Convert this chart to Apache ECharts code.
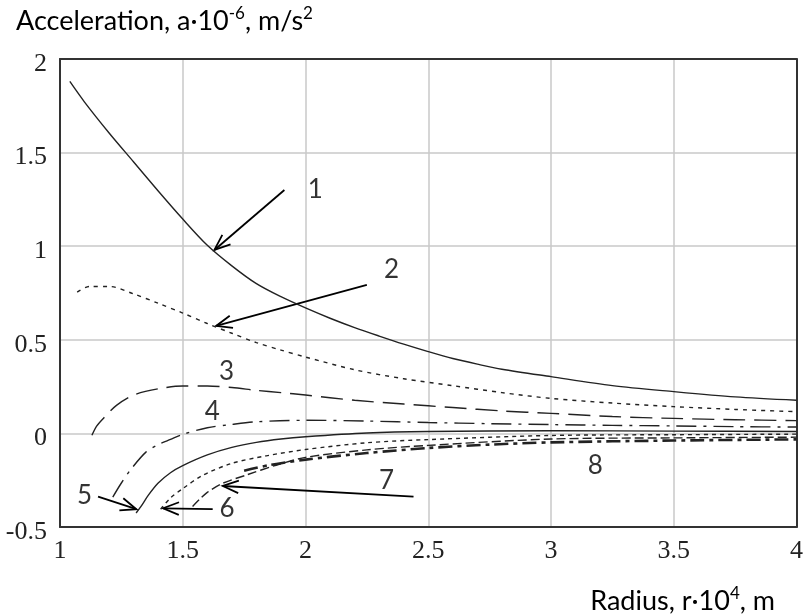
<!DOCTYPE html>
<html lang="en">

<head>
    <meta charset="UTF-8">
    <title>Acceleration vs radius</title>
    <style>
        html, body { margin: 0; padding: 0; background: #fff; }
        .show { width: 806px; height: 616px; }
    </style>
</head>

<body>
    <div class="show"></div>
    <script src="https://cdn.jsdelivr.net/npm/echarts@6/dist/echarts.min.js"></script>
    <script>
        // tick labels
        const xTicks = [1, 1.5, 2, 2.5, 3, 3.5, 4]
        const yTicks = [-0.5, 0, 0.5, 1, 1.5, 2]

        // curves: [r, a]
        const curve1 = [[1.04, 1.88], [1.1, 1.77], [1.2, 1.605], [1.3, 1.45], [1.4, 1.295], [1.5, 1.145], [1.6, 1.005], [1.7, 0.895], [1.8, 0.8], [1.9, 0.73], [2.0, 0.67], [2.1, 0.615], [2.2, 0.565], [2.3, 0.52], [2.4, 0.477], [2.5, 0.437], [2.6, 0.4], [2.7, 0.37], [2.8, 0.343], [3.0, 0.303], [3.25, 0.255], [3.5, 0.223], [3.75, 0.195], [4.0, 0.177]]
        const curve2 = [[1.07, 0.755], [1.12, 0.785], [1.2, 0.785], [1.3, 0.745], [1.4, 0.695], [1.5, 0.643], [1.6, 0.587], [1.7, 0.535], [1.8, 0.485], [1.9, 0.445], [2.0, 0.408], [2.2, 0.34], [2.4, 0.292], [2.6, 0.255], [2.8, 0.218], [3.0, 0.187], [3.25, 0.162], [3.5, 0.143], [3.75, 0.128], [4.0, 0.116]]
        const curve3 = [[1.13, -0.01], [1.15, 0.04], [1.18, 0.085], [1.23, 0.15], [1.3, 0.205], [1.4, 0.238], [1.5, 0.253], [1.6, 0.253], [1.7, 0.245], [1.8, 0.23], [1.9, 0.218], [2.0, 0.205], [2.2, 0.177], [2.4, 0.157], [2.6, 0.138], [2.8, 0.12], [3.0, 0.107], [3.25, 0.09], [3.5, 0.08], [3.75, 0.073], [4.0, 0.068]]
        const curve4 = [[1.215, -0.34], [1.25, -0.265], [1.29, -0.19], [1.35, -0.1], [1.4, -0.06], [1.45, -0.032], [1.5, -0.005], [1.6, 0.03], [1.7, 0.048], [1.8, 0.062], [2.0, 0.07], [2.25, 0.066], [2.5, 0.058], [2.75, 0.052], [3.0, 0.047], [3.25, 0.043], [3.5, 0.04], [3.75, 0.036], [4.0, 0.034]]
        const curve5 = [[1.31, -0.425], [1.33, -0.39], [1.36, -0.33], [1.4, -0.265], [1.45, -0.21], [1.5, -0.172], [1.6, -0.115], [1.7, -0.075], [1.8, -0.048], [1.9, -0.03], [2.0, -0.018], [2.25, 0.002], [2.5, 0.01], [3.0, 0.014], [3.5, 0.012], [4.0, 0.01]]
        const curve6 = [[1.41, -0.405], [1.45, -0.345], [1.5, -0.295], [1.58, -0.225], [1.7, -0.16], [1.84, -0.12], [2.0, -0.086], [2.25, -0.05], [2.5, -0.033], [3.0, -0.011], [3.5, -0.007], [4.0, -0.004]]
        const curve7 = [[1.54, -0.39], [1.57, -0.35], [1.6, -0.315], [1.66, -0.268], [1.76, -0.222], [1.88, -0.17], [2.0, -0.128], [2.25, -0.088], [2.5, -0.064], [3.0, -0.03], [3.5, -0.024], [4.0, -0.02]]
        const curve8 = [[1.75, -0.2], [1.85, -0.17], [2.0, -0.14], [2.25, -0.105], [2.5, -0.078], [2.75, -0.06], [3.0, -0.048], [3.5, -0.038], [4.0, -0.032]]

        // annotation numbers [r, a, text] and arrows [fromR, fromA, toR, toA]
        const notes = [[2.04, 1.30, '1'], [2.35, 0.873, '2'], [1.678, 0.33, '3'], [1.62, 0.116, '4'], [1.1, -0.33, '5'], [1.68, -0.40, '6'], [2.33, -0.25, '7'], [3.18, -0.17, '8']]
        const arrows = [[1.914, 1.30, 1.629, 0.98], [2.25, 0.793, 1.636, 0.574], [1.155, -0.338, 1.311, -0.405], [1.622, -0.405, 1.42, -0.40], [2.44, -0.338, 1.663, -0.281]]

        const ink = '#222'
        const myChart = echarts.init(document.querySelector('.show'))

        function curve(data, type, width) {
            return {
                type: 'line',
                data: data,
                showSymbol: false,
                smooth: 0.3,
                silent: true,
                lineStyle: { color: ink, width: width || 1.4, type: type }
            }
        }

        const nameStyle = {
            fontFamily: 'Lato',
            fontWeight: 'normal',
            fontSize: 27,
            color: '#000',
            lineHeight: 32,
            rich: { sup: { fontFamily: 'Lato', fontSize: 17, verticalAlign: 'top', lineHeight: 32, color: '#000' } }
        }

        const option = {
            animation: false,
            title: [{
                left: 11,
                top: 0,
                text: 'Acceleration, a·10{sup|-6}, m/s{sup|2}',
                textStyle: nameStyle
            }, {
                right: 26,
                top: 580,
                text: 'Radius, r·10{sup|4}, m',
                textStyle: nameStyle
            }],
            grid: { left: 60, right: 7, top: 59, bottom: 89 },
            xAxis: [{
                type: 'value',
                min: 1, max: 4, interval: 0.5,
                axisLine: { show: true, onZero: false, lineStyle: { color: '#333', width: 2 } },
                axisTick: { show: false },
                splitLine: { show: true, lineStyle: { color: '#c8c8c8', width: 1.5 } },
                axisLabel: {
                    margin: 11,
                    fontFamily: 'Liberation Serif',
                    fontSize: 26,
                    color: ink,
                    formatter: v => xTicks.includes(v) ? String(v) : ''
                }
            }, {
                type: 'value', position: 'top',
                min: 1, max: 4,
                axisLine: { show: true, onZero: false, lineStyle: { color: '#333', width: 2 } },
                axisTick: { show: false }, axisLabel: { show: false }, splitLine: { show: false }
            }],
            yAxis: [{
                type: 'value',
                min: -0.5, max: 2, interval: 0.5,
                axisLine: { show: true, onZero: false, lineStyle: { color: '#333', width: 2 } },
                axisTick: { show: false },
                splitLine: { show: true, lineStyle: { color: '#c8c8c8', width: 1.5 } },
                axisLabel: {
                    margin: 13,
                    fontFamily: 'Liberation Serif',
                    fontSize: 26,
                    color: ink,
                    verticalAlign: 'top',
                    lineHeight: 10,
                    formatter: v => yTicks.includes(v) ? String(v) : ''
                }
            }, {
                type: 'value', position: 'right',
                min: -0.5, max: 2,
                axisLine: { show: true, onZero: false, lineStyle: { color: '#333', width: 2 } },
                axisTick: { show: false }, axisLabel: { show: false }, splitLine: { show: false }
            }],
            series: [
                curve(curve1, 'solid'),
                curve(curve2, [4, 5]),
                curve(curve3, [22, 9]),
                curve(curve4, [20, 7, 3, 7]),
                curve(curve5, 'solid'),
                curve(curve6, [4, 4]),
                curve(curve7, [9, 4]),
                curve(curve8, [14, 5, 4, 5], 2.6),
                {
                    // arrows
                    type: 'custom',
                    silent: true,
                    data: arrows,
                    renderItem: function (params, api) {
                        const p1 = api.coord([api.value(0), api.value(1)])
                        const p2 = api.coord([api.value(2), api.value(3)])
                        const ang = Math.atan2(p2[1] - p1[1], p2[0] - p1[0])
                        const len = 17, spread = 0.38
                        const h1 = [p2[0] - len * Math.cos(ang - spread), p2[1] - len * Math.sin(ang - spread)]
                        const h2 = [p2[0] - len * Math.cos(ang + spread), p2[1] - len * Math.sin(ang + spread)]
                        const style = { stroke: '#000', lineWidth: 1.8, fill: null }
                        return {
                            type: 'group',
                            children: [
                                { type: 'line', shape: { x1: p1[0], y1: p1[1], x2: p2[0], y2: p2[1] }, style: style },
                                { type: 'polyline', shape: { points: [h1, p2, h2] }, style: style }
                            ]
                        }
                    }
                },
                {
                    // curve numbers
                    type: 'scatter',
                    silent: true,
                    symbolSize: 0,
                    data: notes,
                    label: {
                        show: true,
                        position: 'inside',
                        formatter: p => p.value[2],
                        fontFamily: 'Lato',
                        fontSize: 26,
                        color: '#000'
                    }
                }
            ]
        }

        myChart.setOption(option)
    </script>
</body>

</html>
